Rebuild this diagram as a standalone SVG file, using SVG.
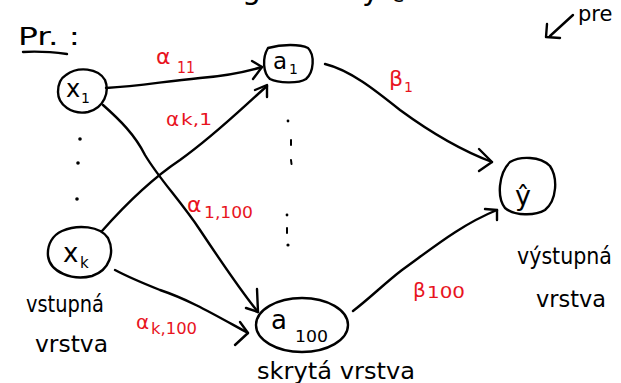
<svg xmlns="http://www.w3.org/2000/svg" width="621" height="383" viewBox="0 0 621 383">
  <style>
    .ink { fill: none; stroke: #000; stroke-width: 2.4; stroke-linecap: round; stroke-linejoin: round; }
    .thin { fill: none; stroke: #000; stroke-width: 2; stroke-linecap: round; }
    .dot { fill: #000; }
    .t { font-family: "DejaVu Sans", "Liberation Sans", sans-serif; fill: #000; }
    .r { font-family: "DejaVu Sans", "Liberation Sans", sans-serif; fill: #e8141e; }
  </style>

  <rect width="621" height="383" fill="#fff"/>

  <!-- descenders of a heading line running off the top edge -->
  <text class="t" x="242" y="-1" font-size="30">g</text>
  <text class="t" x="362" y="0" font-size="30">y</text>
  <text class="t" x="392" y="2" font-size="20">e</text>

  <!-- note in the top-right corner -->
  <g id="note">
    <path class="ink" d="M573,15 L550,36 M547,24 L546,37 L560,38"/>
    <text class="t" x="578" y="21" font-size="21">pre</text>
  </g>

  <!-- heading -->
  <g id="heading">
    <text class="t" x="18" y="45" font-size="24" textLength="62" lengthAdjust="spacingAndGlyphs">Pr. :</text>
    <path class="ink" d="M23,52 C38,51 52,52 67,54"/>
  </g>

  <!-- ellipsis dots between nodes -->
  <g id="dots">
    <circle class="dot" cx="80" cy="139" r="1.8"/>
    <circle class="dot" cx="78" cy="163" r="1.8"/>
    <circle class="dot" cx="77" cy="199" r="1.8"/>
    <circle class="dot" cx="288" cy="121" r="1.4"/>
    <path class="thin" d="M291,140 L291,145"/>
    <path class="thin" d="M291,160 L291.5,164" stroke-width="1"/>
    <circle class="dot" cx="287" cy="215" r="1.4"/>
    <path class="thin" d="M287,228 L287,233"/>
    <circle class="dot" cx="288" cy="245" r="1.6"/>
  </g>

  <!-- connectors -->
  <g id="connectors">
    <!-- x1 -> a1 -->
    <path class="ink" d="M106,88 C140,86 160,82 200,78 C225,76 245,72 262,67"/>
    <path class="ink" d="M252,61 L262,67 L253,79"/>
    <!-- xk -> a1 -->
    <path class="ink" d="M102,231 C125,205 150,180 180,160 C215,135 240,110 267,86"/>
    <path class="ink" d="M255,90 L267,85 L267,97"/>
    <!-- x1 -> a100 -->
    <path class="ink" d="M103,105 C120,120 135,135 145,155 C160,180 180,200 200,230 C220,260 240,290 258,312"/>
    <path class="ink" d="M257,289 L258,312 L246,308"/>
    <!-- xk -> a100 -->
    <path class="ink" d="M115,270 C130,278 145,284 160,290 C190,300 215,315 248,333"/>
    <path class="ink" d="M240,322 L248,333 L235,345"/>
    <!-- a1 -> y -->
    <path class="ink" d="M325,64 C350,70 375,90 400,110 C430,132 460,150 492,162"/>
    <path class="ink" d="M479,149 L492,162 L479,171"/>
    <!-- a100 -> y -->
    <path class="ink" d="M353,311 C370,298 385,283 402,270 C430,250 460,225 497,210"/>
    <path class="ink" d="M485,209 L497,210 L497,220"/>
  </g>

  <!-- weight labels -->
  <g id="weights">
    <text class="r" x="156" y="64" font-size="22">α</text>
    <text class="r" x="177" y="73" font-size="15" textLength="18" lengthAdjust="spacingAndGlyphs">11</text>
    <text class="r" x="166" y="126" font-size="20">α</text>
    <text class="r" x="181" y="125" font-size="15" textLength="31" lengthAdjust="spacingAndGlyphs">k,1</text>
    <text class="r" x="187" y="212" font-size="22">α</text>
    <text class="r" x="204" y="218" font-size="16" textLength="49" lengthAdjust="spacingAndGlyphs">1,100</text>
    <text class="r" x="136" y="329" font-size="20">α</text>
    <text class="r" x="151" y="334" font-size="16" textLength="46" lengthAdjust="spacingAndGlyphs">k,100</text>
    <text class="r" x="389" y="86" font-size="22">β</text>
    <text class="r" x="404" y="92" font-size="14">1</text>
    <text class="r" x="413" y="297" font-size="20">β</text>
    <text class="r" x="427" y="298" font-size="15" textLength="38" lengthAdjust="spacingAndGlyphs">100</text>
  </g>

  <!-- input node x1 -->
  <g id="x1">
    <path class="ink" d="M66,75 C78,66 98,68 105,80 C110,92 104,108 88,112 C72,115 58,105 58,92 C58,84 61,78 66,75 Z"/>
    <text class="t" x="66" y="97" font-size="24">x</text>
    <text class="t" x="81" y="103" font-size="14">1</text>
  </g>

  <!-- input node xk -->
  <g id="xk">
    <path class="ink" d="M62,231 C78,224 100,226 108,238 C115,252 110,270 92,276 C72,281 50,272 48,256 C47,244 53,235 62,231 Z"/>
    <text class="t" x="63" y="262" font-size="26">x</text>
    <text class="t" x="80" y="268" font-size="15">k</text>
  </g>

  <!-- hidden node a1 -->
  <g id="a1">
    <path class="ink" d="M268,48 C282,44 300,44 308,48 C315,55 314,72 306,79 C298,84 278,83 270,79 C263,73 262,58 268,48 Z"/>
    <text class="t" x="273" y="69" font-size="23">a</text>
    <text class="t" x="289" y="74" font-size="14">1</text>
  </g>

  <!-- hidden node a100 -->
  <g id="a100">
    <ellipse class="ink" cx="302" cy="325" rx="46" ry="27"/>
    <text class="t" x="271" y="329" font-size="26">a</text>
    <text class="t" x="295" y="342" font-size="15" textLength="33" lengthAdjust="spacingAndGlyphs">100</text>
  </g>

  <!-- output node -->
  <g id="y">
    <path class="ink" d="M510,162 C520,156 540,156 550,166 C558,178 557,200 545,210 C535,216 515,216 505,208 C497,198 498,174 510,162 Z"/>
    <text class="t" x="515" y="205" font-size="27">ŷ</text>
  </g>

  <!-- layer captions -->
  <g id="captions">
    <text class="t" x="26" y="312" font-size="23" textLength="78" lengthAdjust="spacingAndGlyphs">vstupná</text>
    <text class="t" x="35" y="352" font-size="23" textLength="73" lengthAdjust="spacingAndGlyphs">vrstva</text>
    <text class="t" x="517" y="264" font-size="23" textLength="95" lengthAdjust="spacingAndGlyphs">výstupná</text>
    <text class="t" x="536" y="307" font-size="23" textLength="70" lengthAdjust="spacingAndGlyphs">vrstva</text>
    <text class="t" x="257" y="379" font-size="23" textLength="158" lengthAdjust="spacingAndGlyphs">skrytá vrstva</text>
  </g>
</svg>
